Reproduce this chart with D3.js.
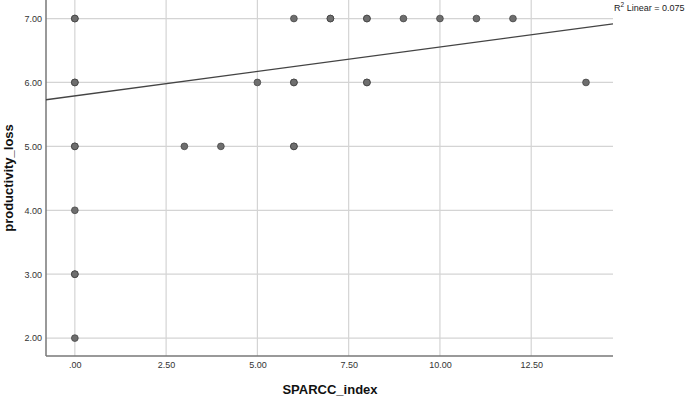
<!DOCTYPE html>
<html>
<head>
<meta charset="utf-8">
<script src="https://cdn.jsdelivr.net/npm/d3@7"></script>
<style>
	body { margin: 0; background: #fff; }
	svg { display: block; font-family: "Liberation Sans", Arial, sans-serif; }
	.grid line { stroke: #d4d4d4; stroke-width: 1.2; }
	.axis path { stroke: #777; stroke-width: 1.5; }
	.axis text { fill: #333; font-size: 9px; }
</style>
</head>
<body>
<svg></svg>
<script>
	// points (repeats = overlapping cases)
	var sparcc = [0, 0, 0, 0, 0, 0, 0, 0, 0, 0, 3, 4, 5, 6, 6, 6, 6, 6, 7, 7, 8, 8, 8, 8, 9, 10, 11, 12, 14];
	var loss   = [7, 7, 6, 6, 5, 5, 4, 3, 3, 2, 5, 5, 6, 7, 6, 6, 5, 5, 7, 7, 7, 7, 6, 6, 7, 7, 7, 7, 6];
	var xTicks = [0, 2.5, 5, 7.5, 10, 12.5];
	var yTicks = [2, 3, 4, 5, 6, 7];
	var fitIntercept = 5.79, fitSlope = 0.0765;
	var r2Label = "Linear = 0.075";

	var width = 685, height = 398;
	var margins = { left: 46, right: 72, top: 0, bottom: 42 };

	var svg = d3.select('svg')
		.attr("width", width)
		.attr("height", height);

	var x = d3.scaleLinear()
		.domain([-0.79, 14.74])
		.range([margins.left, width - margins.right]);
	var y = d3.scaleLinear()
		.domain([1.72, 7.29])
		.range([height - margins.bottom, margins.top]);

	// grid
	svg.append("g").attr("class", "grid")
		.selectAll("line.v").data(xTicks).enter().append("line")
		.attr("x1", d => x(d)).attr("x2", d => x(d))
		.attr("y1", y.range()[0]).attr("y2", y.range()[1]);
	svg.append("g").attr("class", "grid")
		.selectAll("line.h").data(yTicks).enter().append("line")
		.attr("y1", d => y(d)).attr("y2", d => y(d))
		.attr("x1", x.range()[0]).attr("x2", x.range()[1]);

	// axes
	svg.append("g")
		.attr("class", "axis")
		.attr("transform", "translate(0," + y.range()[0] + ")")
		.call(d3.axisBottom(x).tickValues(xTicks).tickSize(0).tickPadding(6)
			.tickFormat(d => d === 0 ? ".00" : d3.format(".2f")(d)))
		.call(g => g.select(".domain").attr("d", "M" + x.range()[0] + ",0H" + x.range()[1]));
	svg.append("g")
		.attr("class", "axis")
		.attr("transform", "translate(" + x.range()[0] + ",0)")
		.call(d3.axisLeft(y).tickValues(yTicks).tickSize(0).tickPadding(4)
			.tickFormat(d3.format(".2f")))
		.call(g => g.select(".domain").attr("d", "M0," + y.range()[0] + "V" + y.range()[1]));

	// fit line
	var xd = x.domain();
	svg.append("line")
		.attr("x1", x(xd[0])).attr("y1", y(fitIntercept + fitSlope * xd[0]))
		.attr("x2", x(xd[1])).attr("y2", y(fitIntercept + fitSlope * xd[1]))
		.attr("stroke", "#444").attr("stroke-width", 1.3);

	// points
	svg.append("g")
		.selectAll("circle")
		.data(sparcc.map((d, i) => [d, loss[i]]))
		.enter()
		.append("circle")
		.attr("cx", d => x(d[0]))
		.attr("cy", d => y(d[1]))
		.attr("r", 3.4)
		.attr("fill", "#6e6e6e")
		.attr("stroke", "#3a3a3a")
		.attr("stroke-width", 0.9)
		.attr("stroke-opacity", 0.75);

	// R2 label
	var lab = svg.append("text")
		.attr("x", x.range()[1] + 1)
		.attr("y", 11)
		.attr("font-size", "9px")
		.attr("fill", "#222");
	lab.append("tspan").text("R");
	lab.append("tspan").attr("dy", -4).attr("font-size", "6.5px").text("2");
	lab.append("tspan").attr("dy", 4).text(" " + r2Label);

	// titles
	svg.append("text")
		.attr("x", 330).attr("y", 394)
		.attr("text-anchor", "middle")
		.attr("font-weight", "bold")
		.attr("font-size", "13px")
		.attr("fill", "#111")
		.text("SPARCC_index");
	svg.append("text")
		.attr("transform", "translate(13,178) rotate(-90)")
		.attr("text-anchor", "middle")
		.attr("font-weight", "bold")
		.attr("font-size", "13px")
		.attr("fill", "#111")
		.text("productivity_loss");
</script>
</body>
</html>
